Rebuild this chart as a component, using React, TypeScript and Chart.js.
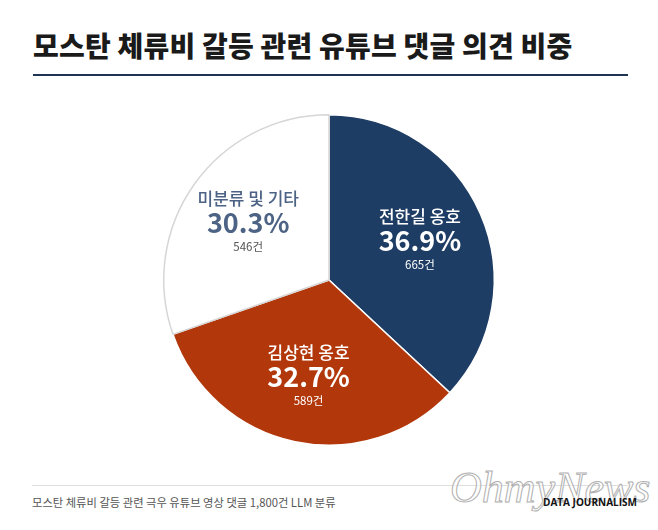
import React, { useEffect, useRef } from "react";
import { Chart, registerables } from "chart.js";

Chart.register(...registerables);

const TITLE = "모스탄 체류비 갈등 관련 유튜브 댓글 의견 비중";
const FOOTNOTE = "모스탄 체류비 갈등 관련 극우 유튜브 영상 댓글 1,800건 LLM 분류";
const categories = ["전한길 옹호", "김상현 옹호", "미분류 및 기타"];
const counts = [665, 589, 546];
const percents = [36.9, 32.7, 30.3];
const sliceColors = ["#1e3d64", "#b2380b", "#ffffff"];
const sliceBorders = ["#ffffff", "#ffffff", "#d6d6d6"];
const nameColors = ["#ffffff", "#ffffff", "#4d6385"];
const pctColors = ["#ffffff", "#ffffff", "#4d6385"];
const countColors = ["#ffffff", "#ffffff", "#555555"];

const FONT = "'Noto Sans CJK KR', 'Noto Sans', sans-serif";

const labelPlugin = {
  id: "sliceLabels",
  afterDatasetsDraw(chart: any) {
    const ctx = chart.ctx;
    const meta = chart.getDatasetMeta(0);
    meta.data.forEach((arc: any, i: number) => {
      const p = arc.getProps(["x", "y", "startAngle", "endAngle", "outerRadius"], true);
      const mid = (p.startAngle + p.endAngle) / 2;
      const r = p.outerRadius * 0.6;
      const cx = p.x + Math.cos(mid) * r;
      const cy = p.y + Math.sin(mid) * r;
      ctx.save();
      ctx.textAlign = "center";
      ctx.textBaseline = "middle";
      ctx.fillStyle = nameColors[i];
      ctx.font = `500 17px ${FONT}`;
      ctx.fillText(categories[i], cx, cy - 24);
      ctx.fillStyle = pctColors[i];
      ctx.font = `700 27px ${FONT}`;
      ctx.fillText(`${percents[i].toFixed(1)}%`, cx, cy);
      ctx.fillStyle = countColors[i];
      ctx.font = `400 11.5px ${FONT}`;
      ctx.fillText(`${counts[i]}건`, cx, cy + 24);
      ctx.restore();
    });
  },
};

export default function App() {
  const ref = useRef<HTMLCanvasElement>(null);
  useEffect(() => {
    document.body.style.margin = "0";
    if (!ref.current) return;
    const chart = new Chart(ref.current, {
      type: "pie",
      data: {
        labels: categories,
        datasets: [
          {
            data: counts,
            backgroundColor: sliceColors,
            borderColor: sliceBorders,
            borderWidth: 1.5,
          },
        ],
      },
      options: {
        animation: false,
        responsive: false,
        maintainAspectRatio: false,
        layout: { padding: 0 },
        plugins: {
          legend: { display: false },
          tooltip: { enabled: false },
        },
      },
      plugins: [labelPlugin],
    });
    return () => chart.destroy();
  }, []);

  return (
    <div
      style={{
        position: "absolute",
        left: 0,
        top: 0,
        width: 658,
        height: 530,
        background: "#ffffff",
        overflow: "hidden",
        fontFamily: FONT,
      }}
    >
      <div
        style={{
          position: "absolute",
          left: 33,
          top: 25,
          fontSize: 28,
          fontWeight: 900,
          color: "#1a1a1a",
          lineHeight: "40px",
          whiteSpace: "nowrap",
          letterSpacing: 0.2,
        }}
      >
        {TITLE}
      </div>
      <div
        style={{
          position: "absolute",
          left: 33,
          top: 74,
          width: 595,
          height: 2,
          background: "#1f3353",
        }}
      />
      <canvas
        ref={ref}
        width={658}
        height={332}
        style={{ position: "absolute", left: 0, top: 114, width: 658, height: 332 }}
      />
      <div
        style={{
          position: "absolute",
          left: 32,
          top: 485,
          width: 596,
          height: 1,
          background: "#dedede",
        }}
      />
      <div
        style={{
          position: "absolute",
          left: 32,
          top: 494,
          fontSize: 11.3,
          color: "#555555",
          lineHeight: "16px",
          whiteSpace: "nowrap",
        }}
      >
        {FOOTNOTE}
      </div>
      <div
        style={{
          position: "absolute",
          left: 450,
          top: 462,
          fontFamily: "'Liberation Serif', serif",
          fontStyle: "italic",
          fontSize: 44,
          lineHeight: "52px",
          color: "rgba(255,255,255,0.6)",
          WebkitTextStroke: "1px #b0b0b0",
          whiteSpace: "nowrap",
        }}
      >
        OhmyNews
      </div>
      <div
        style={{
          position: "absolute",
          left: 543,
          top: 495,
          fontSize: 10,
          fontWeight: 700,
          color: "#111111",
          lineHeight: "14px",
          whiteSpace: "nowrap",
          fontFamily: "'Open Sans', sans-serif",
        }}
      >
        DATA JOURNALISM
      </div>
    </div>
  );
}
